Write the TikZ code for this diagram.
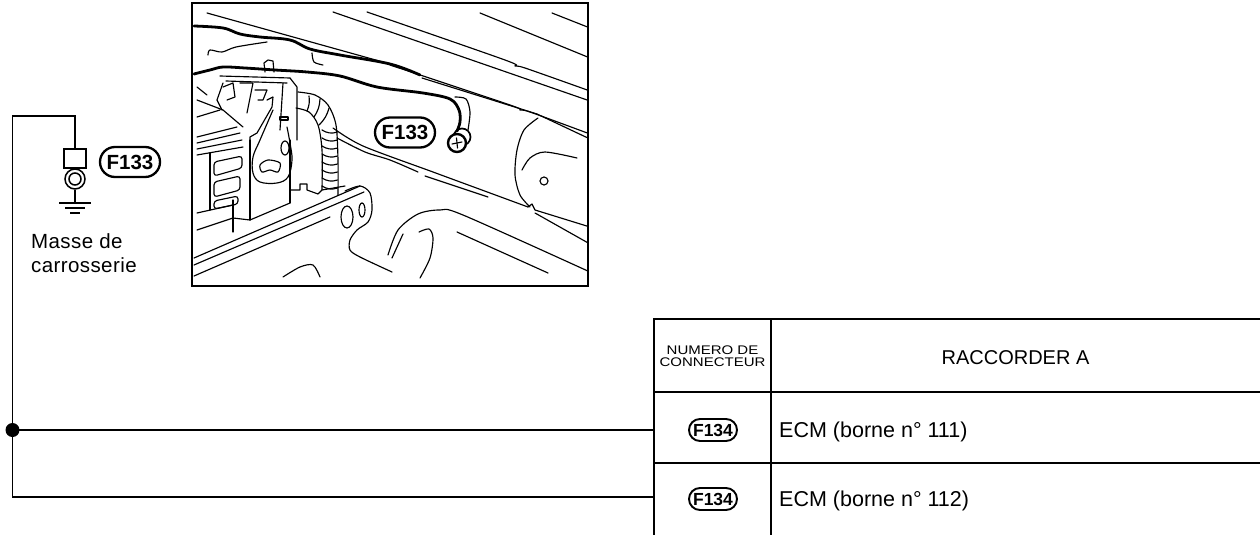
\documentclass[tikz,border=0pt]{standalone}
\usepackage{fontspec}
\usepackage{graphicx}
\setmainfont{Liberation Sans}
\usetikzlibrary{shapes.misc}
\begin{document}
\begin{tikzpicture}[x=1pt,y=-1pt,
  wire/.style={line width=1.8pt},
  grid/.style={line width=1.8pt},
  ph/.style={line width=1.15pt, line cap=round, line join=round},
  phk/.style={line width=2.8pt, line cap=round, line join=round},
  frame/.style={line width=2.5pt},
  badge/.style={draw, line width=2.3pt, rounded rectangle, inner sep=0pt,
    minimum width=60pt, minimum height=30pt, fill=white,
    font=\fontsize{20.5}{20.5}\selectfont\bfseries},
  smallbadge/.style={draw, line width=1.9pt, rounded rectangle, inner sep=0pt,
    minimum width=48pt, minimum height=22pt,
    font=\fontsize{17.5}{17.5}\selectfont\bfseries},
  lbl/.style={inner sep=0pt, font=\fontsize{20.5}{24}\selectfont\addfontfeature{LetterSpace=2}},
  cell/.style={inner sep=0pt, font=\fontsize{20}{24}\selectfont},
  rowtext/.style={inner sep=0pt, font=\fontsize{21.5}{24}\selectfont},
  headsmall/.style={inner sep=0pt, anchor=base, font=\fontsize{12.5}{12.5}\selectfont},
]
\useasboundingbox (0,0) rectangle (1260,535);

% ---------- ground point symbol ----------
\node[draw, line width=1.5pt, minimum width=22pt, minimum height=19pt, inner sep=0pt] (sq) at (75,158.5) {};
\node[draw, circle, line width=1.5pt, minimum size=20pt, inner sep=0pt] (ring) at (75,179) {};
\node[draw, circle, line width=1.5pt, minimum size=12pt, inner sep=0pt] (ringin) at (ring.center) {};
\coordinate (gnd) at (75,203);
\draw[wire] (ring.south) -- (gnd);
\draw[wire] ([xshift=-16pt]gnd) -- ([xshift=16pt]gnd);
\draw[wire] ([xshift=-10pt,yshift=-5pt]gnd) -- ([xshift=10pt,yshift=-5pt]gnd);
\draw[wire] ([xshift=-5pt,yshift=-10pt]gnd) -- ([xshift=5pt,yshift=-10pt]gnd);

\node[badge] (f133a) at (130,162) {F133};
\node[lbl, anchor=base west] (m1) at (31,248) {Masse de};
\node[lbl, anchor=base west] (m2) at (31,272) {carrosserie};

% ---------- wiring ----------
\node[circle, fill, inner sep=0pt, minimum size=14pt] (j) at (12.5,430) {};
\coordinate (tl) at (12.5,116);
\coordinate (bl) at (12.5,497);
\coordinate (r1) at (654,430);
\coordinate (r2) at (654,497);
\draw[wire] (sq.north) |- (tl) -- (bl) -- (r2);
\draw[wire] (j.center) -- (r1);

% ---------- connector table ----------
\draw[grid] (654,535) -- (654,319) -- (1260,319);
\draw[grid] (771,535) -- (771,319);
\draw[grid] (654,392) -- (1260,392);
\draw[grid] (654,463) -- (1260,463);
\node[headsmall] (h1) at (712.5,354) {\scalebox{1.2}[1]{NUMERO DE}};
\node[headsmall] (h2) at (712.5,366) {\scalebox{1.2}[1]{CONNECTEUR}};
\node[cell, anchor=base] (h3) at (1015.5,364) {RACCORDER A};
\node[smallbadge] (c1) at (713,430) {F134};
\node[smallbadge] (c2) at (713,499) {F134};
\node[rowtext, anchor=base west] (e1) at (779,437) {ECM (borne n° 111)};
\node[rowtext, anchor=base west] (e2) at (779,506) {ECM (borne n° 112)};

% ---------- location view ----------
\begin{scope}
\clip (192,3) rectangle (588,286);
% body panel edges
\draw[ph] (207,13) -- (390,64);
\draw[ph] plot[smooth,tension=.5] coordinates {(367,12) (505,60) (515,66) (525,68) (590,91)};
\draw[ph] (333,12) -- (590,101);
\draw[ph] (480,13) -- (590,58);
\draw[ph] (552,13) -- (590,28);
\draw[ph] plot[smooth,tension=.5] coordinates {(390,65) (510,105) (520,110) (530,112) (590,134)};
\draw[ph] (422,78) -- (537,114) -- (590,139);
% upper harness
\draw[phk] plot[smooth,tension=.6] coordinates {(194,26) (223,28) (240,34) (260,37) (290,40) (310,49) (340,55) (390,64) (420,75)};
\draw[ph] plot[smooth] coordinates {(208,55) (210,50) (222,52) (236,47) (267,42)};
\draw[ph] plot[smooth] coordinates {(312,53) (314,62) (323,65)};
% ground cable to the bolt
\draw[phk] plot[smooth,tension=.55] coordinates {(194,74) (210,70) (223,67) (245,68) (275,70) (307,72) (340,76) (377,87) (423,93) (450,99) (459,110) (460,122) (457,131)};
\draw[ph] plot[smooth] coordinates {(455,97) (466,99) (470,112) (468,130)};
\draw[ph, line width=1.7pt] (462,137) circle (8.5);
\draw[ph, line width=2.4pt, fill=white] (457,143) circle (9);
\draw[ph] (452,144) -- (462,142);
\draw[ph] (456.5,138) -- (457.5,148);
% lower panel edges
\draw[ph] plot[smooth] coordinates {(333,128) (363,146) (433,172) (490,193) (528,207)};
\draw[ph] plot[smooth] coordinates {(337,138) (365,152) (390,160) (418,172)};
\draw[ph] (425,176) -- (488,197);
\draw[ph] (528,207) -- (532,204) -- (535,210) -- (590,227);
\draw[ph] (535,213) -- (590,244);
% strut tower
\draw[ph] plot[smooth] coordinates {(538,118) (524,130) (517,150) (515,175) (520,195) (530,207)};
\draw[ph] plot[smooth] coordinates {(522,170) (530,158) (545,152) (577,158)};
\draw[ph] (544,181) circle (4);
% lower tube
\draw[ph] plot[smooth] coordinates {(388,255) (398,230) (418,214) (440,210) (463,215) (590,272)};
\draw[ph] (457,232) -- (548,273);
\draw[ph] plot[smooth] coordinates {(419,232) (429,229) (433,238) (430,258) (420,278)};
\draw[ph] (403,234) -- (392,258);
\draw[ph] plot[smooth] coordinates {(283,277) (300,267) (313,265) (320,277)};
% rails and bracket
\draw[ph] (194,258) -- (360,186);
\draw[ph] (194,265) -- (364,192);
\draw[ph] (194,276) -- (330,217);
\draw[ph] plot[smooth,tension=.5] coordinates {(345,191) (360,186) (370,193) (372,210) (368,222) (357,230) (350,240) (350,250) (360,257) (392,272)};
\draw[ph] (347,217) ellipse [x radius=6, y radius=11];
\draw[ph] (362,210) ellipse [x radius=3, y radius=7];
% connector body
\draw[ph] (250,140) -- (250,220);
\draw[ph] (290,140) -- (290,203);
\draw[ph] (197,230) -- (233,218) -- (250,220) -- (290,203);
\draw[ph] (233,200) -- (233,232);
\draw[ph] (290,190) -- (300,190) -- (300,184) -- (307,184) -- (307,190) -- (318,194) -- (322,190) -- (345,186);
\draw[ph] plot[smooth,tension=.6] coordinates {(273,110) (260,140) (253,157) (253,173) (260,182) (277,183) (288,177) (292,160) (290,143) (287,127)};
\draw[ph] (285,148) ellipse [x radius=4, y radius=7];
\draw[ph] plot[smooth cycle] coordinates {(260,165) (268,160) (280,163) (278,172) (270,170) (262,172)};
\draw[ph] (265,72) -- (264,63) -- (268,60) -- (273,61) -- (274,72);
\draw[ph] (220,76) -- (290,78);
\draw[ph] (226,81) -- (287,83);
\draw[ph] (290,78) -- (297,87) -- (297,140);
\draw[ph] (283,83) -- (280,130);
\draw[ph] (280,117) rectangle (288,120);
\draw[ph] (223,83) -- (217,100) -- (222,110);
\draw[ph] (223,87) -- (233,83) -- (235,97) -- (227,100);
\draw[ph] (240,83) -- (253,83) -- (247,113);
\draw[ph] (255,90) -- (267,90) -- (263,100) -- (258,100);
\draw[ph] (267,100) -- (273,97) -- (272,107) -- (257,133) -- (250,137) -- (250,147);
% module on the left
\draw[ph] (197,87) -- (207,95);
\draw[ph] (197,100) -- (223,110) -- (243,127);
\draw[ph] (197,117) -- (220,110);
\draw[ph] (197,137) -- (237,127);
\draw[ph] (197,143) -- (240,133);
\draw[ph] (197,149) -- (242,140);
\draw[ph] (197,155) -- (243,147);
\draw[ph] (210,153) -- (210,210);
\draw[ph, rounded corners=3pt] (214,162) -- (242,156) -- (242,168) -- (214,176) -- cycle;
\draw[ph, rounded corners=3pt] (214,182) -- (240,176) -- (240,190) -- (214,197) -- cycle;
\draw[ph, rounded corners=3pt] (214,201) -- (238,196) -- (238,204) -- (214,209) -- cycle;
\draw[ph] (197,213) -- (233,205);
% corrugated harness
\draw[ph] plot[smooth] coordinates {(298,92) (315,95) (328,105) (336,125) (338,160) (338,195)};
\draw[ph] plot[smooth] coordinates {(296,108) (309,112) (318,125) (322,150) (322,190)};
\foreach \yy in {130,138,...,186} {\draw[ph] (322,\yy) to[bend right=25] (337.5,\yy+2);}
\draw[ph] (309,96) to[bend left=15] (307,111);
\draw[ph] (320,99) to[bend left=15] (314,117);
\draw[ph] (329,108) to[bend left=15] (319,125);
\end{scope}
\draw[frame] (192,3) rectangle (588,286);
\node[badge] (f133b) at (405,132.5) {F133};

\end{tikzpicture}
\end{document}
